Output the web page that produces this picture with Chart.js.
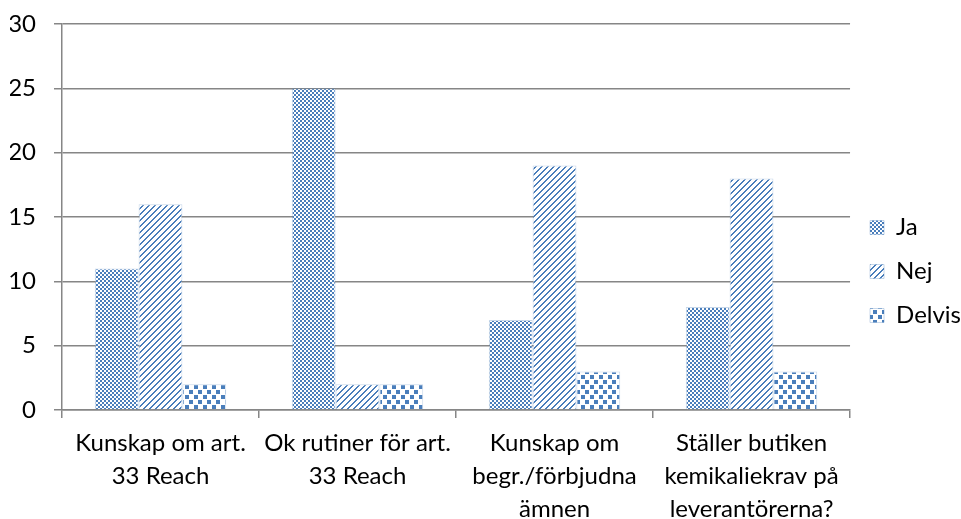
<!DOCTYPE html>
<html>
<head>
<meta charset="utf-8">
<script src="https://cdn.jsdelivr.net/npm/chart.js@4/dist/chart.umd.min.js"></script>
<style>
  html, body { margin: 0; padding: 0; background: #fff; }
  #wrap { width: 961px; height: 519px; }
</style>
</head>
<body>
<div id="wrap"><canvas id="chart"></canvas></div>
<script>
const categories = [
    ['Kunskap om art.', '33 Reach'],
    ['Ok rutiner för art.', '33 Reach'],
    ['Kunskap om', 'begr./förbjudna', 'ämnen'],
    ['Ställer butiken', 'kemikaliekrav på', 'leverantörerna?']
];
const seriesNames = ['Ja', 'Nej', 'Delvis'];
const jaValues = [11, 25, 7, 8];
const nejValues = [16, 2, 19, 18];
const delvisValues = [2, 2, 3, 3];
const yTicks = [0, 5, 10, 15, 20, 25, 30];

const blue = '#4a7ebb';
const fontFamily = 'Lato, "Open Sans", sans-serif';

function makePattern(w, h, draw) {
    const c = document.createElement('canvas');
    c.width = w;
    c.height = h;
    const g = c.getContext('2d');
    g.fillStyle = '#fff';
    g.fillRect(0, 0, w, h);
    g.fillStyle = blue;
    draw(g);
    return document.createElement('canvas').getContext('2d').createPattern(c, 'repeat');
}

// small checkerboard
const checkPattern = makePattern(4, 4, g => {
    g.fillRect(0, 0, 2, 2);
    g.fillRect(2, 2, 2, 2);
});

// wide upward diagonal
const stripePattern = makePattern(6, 6, g => {
    for (let i = 0; i < 6; i++) {
        g.fillRect(i, 5 - i, 2, 1);
        if (i === 5) g.fillRect(0, 0, 1, 1);
    }
});

// confetti squares
const dotPattern = makePattern(9, 10, g => {
    g.fillRect(0, 0, 4, 4);
    g.fillRect(5, 5, 4, 4);
});

const patterns = [checkPattern, stripePattern, dotPattern];
const values = [jaValues, nejValues, delvisValues];

new Chart(document.getElementById('chart'), {
    type: 'bar',
    data: {
        labels: categories,
        datasets: seriesNames.map((name, i) => ({
            label: name,
            data: values[i],
            backgroundColor: patterns[i],
            borderColor: 'rgba(74,126,187,0.3)',
            borderWidth: 1,
            categoryPercentage: 0.667,
            barPercentage: 1
        }))
    },
    options: {
        responsive: true,
        maintainAspectRatio: false,
        animation: false,
        layout: { padding: { left: 10, top: 24, right: -10, bottom: 0 } },
        plugins: {
            tooltip: { enabled: false },
            legend: {
                position: 'right',
                labels: {
                    boxWidth: 14,
                    boxHeight: 14,
                    padding: 20,
                    color: '#000',
                    font: { family: fontFamily, size: 24 }
                }
            }
        },
        scales: {
            x: {
                grid: {
                    offset: true,
                    drawOnChartArea: false,
                    drawTicks: true,
                    tickLength: 8,
                    color: '#868686',
                    lineWidth: 1.5
                },
                border: { color: '#868686', width: 1.5 },
                ticks: {
                    color: '#000',
                    padding: 9,
                    maxRotation: 0,
                    autoSkip: false,
                    font: { family: fontFamily, size: 24, lineHeight: 1.37 }
                },
                afterFit: scale => { scale.height = 109; }
            },
            y: {
                min: 0,
                max: 30,
                afterBuildTicks: scale => { scale.ticks = yTicks.map(v => ({ value: v })); },
                grid: {
                    color: '#868686',
                    lineWidth: 1.5,
                    tickLength: 8
                },
                border: { color: '#868686', width: 1.5 },
                ticks: {
                    color: '#000',
                    padding: 18,
                    font: { family: fontFamily, size: 24 }
                },
                afterFit: scale => {
                    scale.width = 52;
                    scale.paddingTop = 0;
                    scale.paddingBottom = 0;
                }
            }
        }
    }
});
</script>
</body>
</html>
